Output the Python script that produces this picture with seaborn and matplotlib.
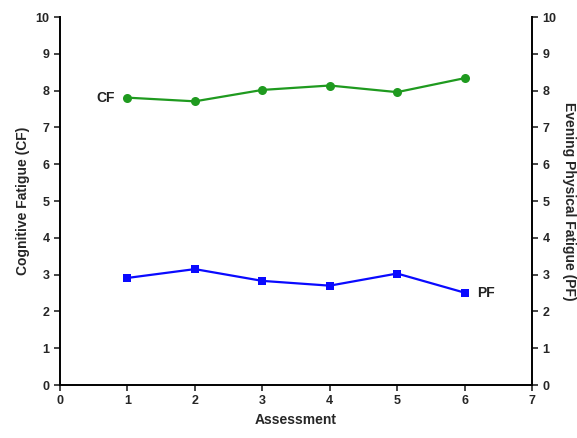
import matplotlib
matplotlib.use("Agg")
import matplotlib.pyplot as plt
import seaborn as sns
import pandas as pd

sns.set_style("ticks")
plt.rcParams['font.family'] = ['Liberation Sans', 'DejaVu Sans']
plt.rcParams['font.weight'] = 'bold'

assessment = [1, 2, 3, 4, 5, 6]
cf_values = [7.81, 7.71, 8.02, 8.14, 7.96, 8.34]
pf_values = [2.91, 3.15, 2.83, 2.70, 3.03, 2.51]
y_ticks = list(range(0, 11))
x_ticks = list(range(0, 8))

df_cf = pd.DataFrame({"Assessment": assessment, "value": cf_values})
df_pf = pd.DataFrame({"Assessment": assessment, "value": pf_values})

fig = plt.figure(figsize=(5.77, 4.38), dpi=100)
ax = fig.add_axes([0.104, 0.121, 0.818, 0.840])

sns.lineplot(data=df_cf, x="Assessment", y="value", ax=ax, color="#1f9a1f",
             marker="o", markersize=6.5, markeredgewidth=0, linewidth=1.6)
sns.lineplot(data=df_pf, x="Assessment", y="value", ax=ax, color="#0a0aff",
             marker="s", markersize=6, markeredgewidth=0, linewidth=1.6)

ax.text(assessment[0] - 0.18, cf_values[0], "CF", ha="right", va="center",
        fontsize=10, fontweight="bold", color="#222222")
ax.text(assessment[-1] + 0.18, pf_values[-1], "PF", ha="left", va="center",
        fontsize=10, fontweight="bold", color="#222222")

ax.set_xlim(0, 7)
ax.set_ylim(0, 10)
ax.set_xticks(x_ticks)
ax.set_yticks(y_ticks)
ax.set_xlabel("Assessment", fontsize=10, fontweight="bold")
ax.set_ylabel("Cognitive Fatigue (CF)", fontsize=10, fontweight="bold")
ax.tick_params(axis="both", labelsize=9, width=1.2, length=4, direction="out")

ax2 = ax.twinx()
ax2.set_ylim(0, 10)
ax2.set_yticks(y_ticks)
ax2.set_ylabel("Evening Physical Fatigue (PF)", fontsize=10, fontweight="bold",
               rotation=-90, labelpad=14)
ax2.tick_params(axis="y", labelsize=9, width=1.2, length=4, direction="out")

for a in (ax, ax2):
    a.spines["top"].set_visible(False)
    for s in ("left", "right", "bottom"):
        a.spines[s].set_linewidth(1.4)
        a.spines[s].set_color("black")
ax.spines["right"].set_visible(False)
ax2.spines["left"].set_visible(False)
ax2.spines["bottom"].set_visible(False)

fig.savefig("out.png", dpi=100)
